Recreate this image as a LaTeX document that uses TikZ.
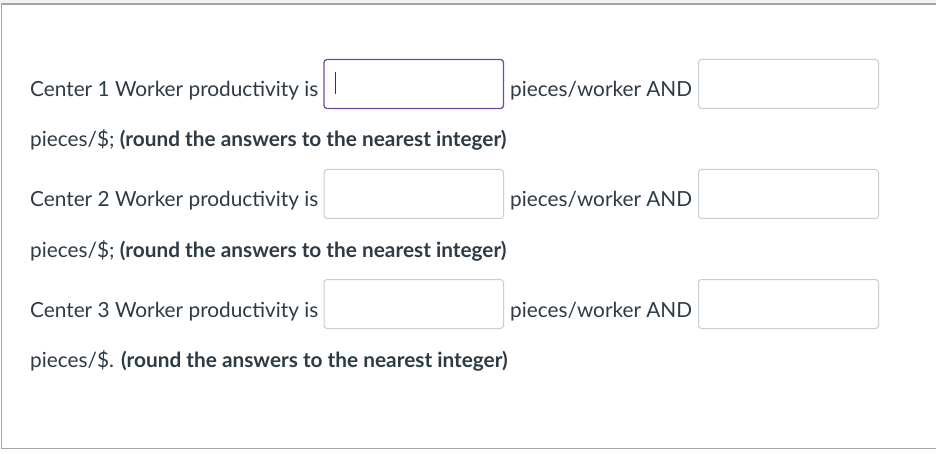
\documentclass[tikz,border=0pt]{standalone}
\usepackage{fontspec}
\setmainfont{Lato}
\definecolor{txt}{HTML}{2D3B45}
\definecolor{inbrd}{HTML}{C7CDD1}
\definecolor{focus}{RGB}{112,72,168}
\definecolor{frame}{HTML}{A5A5A5}
\definecolor{band}{HTML}{F3F3F3}
\tikzset{
  lbl/.style={anchor=base west, inner sep=0pt, text=txt, font=\fontsize{20.8}{24}\selectfont},
  inbox/.style={draw=inbrd, line width=1pt, rounded corners=3pt, fill=white},
  focusbox/.style={draw=focus, line width=1.3pt, rounded corners=3pt, fill=white}
}
\begin{document}
\begin{tikzpicture}[x=1pt,y=-1pt]
\useasboundingbox (0,0) rectangle (936,454);
\fill[white] (0,0) rectangle (936,454);
\fill[band] (0,0) rectangle (936,4);
% outer frame
\draw[frame, line width=1.5pt] (1.5,448.5) -- (1.5,4) -- (937,4);
\draw[frame, line width=1.5pt] (0.75,448.5) -- (937,448.5);
% row 1
\node[lbl] (c1) at (30,97) {Center 1 Worker productivity is};
\draw[focusbox] (324,59.5) rectangle (503.5,108.5);
\draw[txt, line width=1pt] (335.8,72.5) -- (335.8,94);
\node[lbl] (p1) at (510,97) {pieces/worker AND};
\draw[inbox] (698.5,59.5) rectangle (878.5,108.5);
\node[lbl] (r1) at (30,147) {pieces/\$; \textbf{(round the answers to the nearest integer)}};
% row 2
\node[lbl] (c2) at (30,207) {Center 2 Worker productivity is};
\draw[inbox] (324,169.5) rectangle (503.5,218.5);
\node[lbl] (p2) at (510,207) {pieces/worker AND};
\draw[inbox] (698.5,169.5) rectangle (878.5,218.5);
\node[lbl] (r2) at (30,257) {pieces/\$; \textbf{(round the answers to the nearest integer)}};
% row 3
\node[lbl] (c3) at (30,317) {Center 3 Worker productivity is};
\draw[inbox] (324,279.5) rectangle (503.5,328.5);
\node[lbl] (p3) at (510,317) {pieces/worker AND};
\draw[inbox] (698.5,279.5) rectangle (878.5,328.5);
\node[lbl] (r3) at (30,367) {pieces/\$. \textbf{(round the answers to the nearest integer)}};
\end{tikzpicture}
\end{document}
